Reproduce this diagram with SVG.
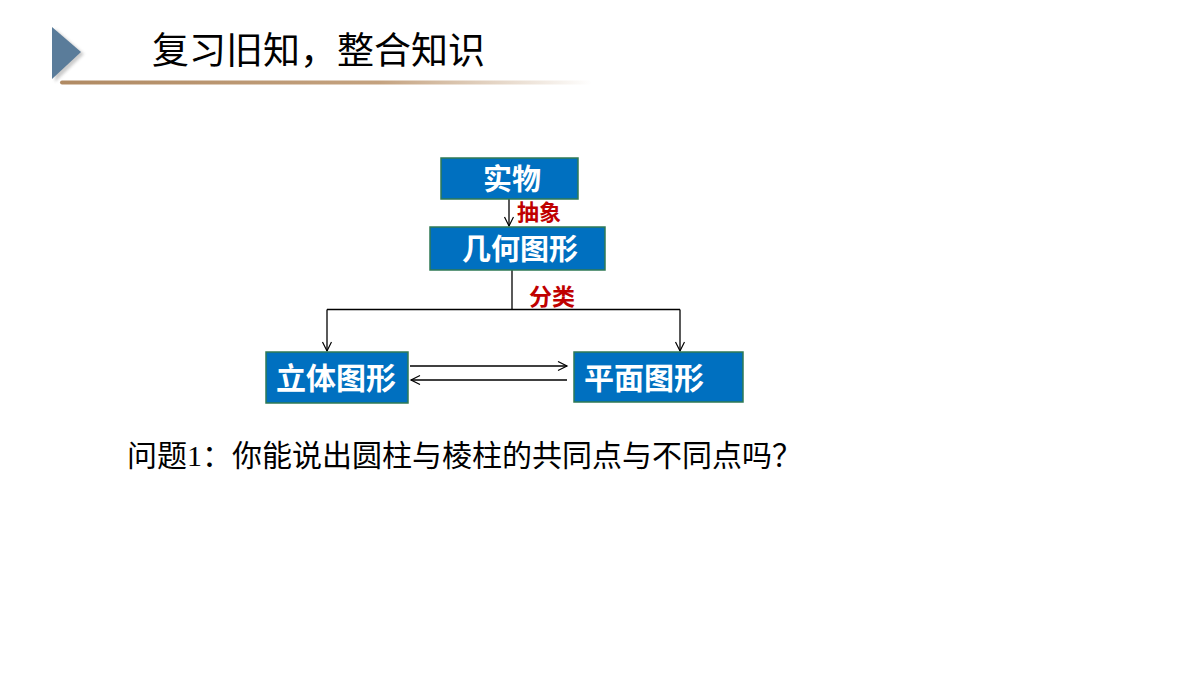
<svg xmlns="http://www.w3.org/2000/svg" width="1200" height="675" viewBox="0 0 1200 675">
<defs>
<style>
.box{fill:#0070c0;stroke:#2f7a55;stroke-width:1.5}
.bt{font-family:"Noto Sans CJK SC","Liberation Sans",sans-serif;font-weight:bold;fill:#ffffff}
.lbl{font-family:"Noto Sans CJK SC","Liberation Sans",sans-serif;font-weight:bold;fill:#c00000;font-size:23px}
.ln{stroke:#000;stroke-width:1.3;fill:none}
</style>
<marker id="ah" markerWidth="12" markerHeight="12" refX="10" refY="5" orient="auto" markerUnits="userSpaceOnUse">
<path d="M1,0.5 L10,5 L1,9.5" fill="none" stroke="#000" stroke-width="1.2"/>
</marker>
<linearGradient id="ul" x1="0" y1="0" x2="1" y2="0">
<stop offset="0" stop-color="#b08a63"/>
<stop offset="0.6" stop-color="#c4a27f"/>
<stop offset="1" stop-color="#c4a27f" stop-opacity="0"/>
</linearGradient>
<filter id="sh" x="-30%" y="-30%" width="160%" height="160%">
<feGaussianBlur stdDeviation="1.5"/>
</filter>
</defs>
<rect width="1200" height="675" fill="#ffffff"/>
<g id="header">
<polygon points="55,29 84,54 55,82" fill="#999" opacity="0.5" filter="url(#sh)"/>
<polygon points="52,27 81,52 52,79" fill="#5a7c9a"/>
<rect x="60" y="80.5" width="532" height="4" rx="2" fill="url(#ul)"/>
<text x="152" y="64" font-family="Noto Sans CJK SC,Liberation Sans,sans-serif" font-size="37" fill="#000">复习旧知，整合知识</text>
</g>
<g id="connectors">
<line class="ln" x1="509" y1="199" x2="509" y2="226" marker-end="url(#ah)"/>
<polyline class="ln" points="512,270 512,309.5"/>
<polyline class="ln" points="327,309.5 680,309.5"/>
<line class="ln" x1="327" y1="309.5" x2="327" y2="351" marker-end="url(#ah)"/>
<line class="ln" x1="680" y1="309.5" x2="680" y2="351" marker-end="url(#ah)"/>
<line class="ln" x1="410" y1="366" x2="567" y2="366" marker-end="url(#ah)"/>
<line class="ln" x1="567" y1="380" x2="411" y2="380" marker-end="url(#ah)"/>
<text class="lbl" x="517" y="220" style="font-size:22px">抽象</text>
<text class="lbl" x="529" y="305">分类</text>
</g>
<g id="node-shiwu">
<rect class="box" x="441" y="158" width="137" height="41"/>
<text class="bt" x="512" y="190" font-size="29" text-anchor="middle">实物</text>
</g>
<g id="node-jihe">
<rect class="box" x="430" y="227" width="175" height="43"/>
<text class="bt" x="520" y="260" font-size="29" text-anchor="middle">几何图形</text>
</g>
<g id="node-liti">
<rect class="box" x="266" y="352" width="142" height="51"/>
<text class="bt" x="276" y="389" font-size="30">立体图形</text>
</g>
<g id="node-pingmian">
<rect class="box" x="574" y="352" width="169" height="50"/>
<text class="bt" x="584" y="389" font-size="30">平面图形</text>
</g>
<g id="question">
<text x="127" y="466" font-family="Noto Sans CJK SC,Liberation Sans,sans-serif" font-size="30" fill="#000">问题<tspan font-family="Liberation Serif,serif">1</tspan>：你能说出圆柱与棱柱的共同点与不同点吗？</text>
</g>
</svg>
